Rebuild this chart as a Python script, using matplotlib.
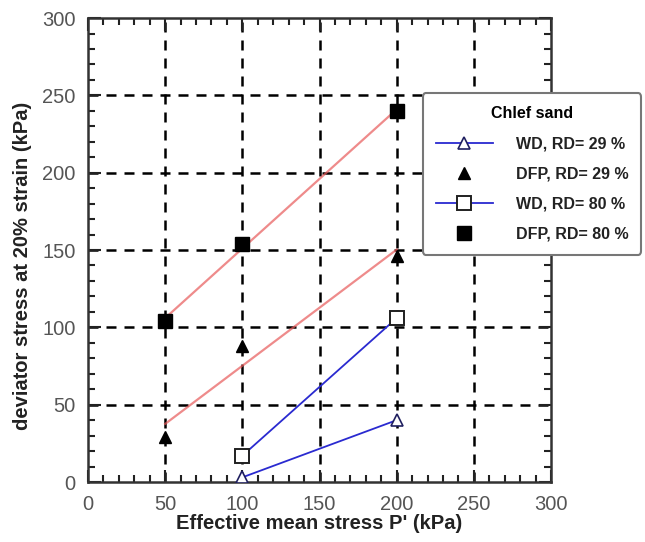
import numpy as np
import matplotlib.pyplot as plt
from matplotlib.ticker import MultipleLocator

plt.rcParams['font.family'] = ['Liberation Sans', 'DejaVu Sans']

# Effective mean stress P' (kPa)
p_wd = [100, 200]
p_dfp = [50, 100, 200]

# deviator stress at 20% strain (kPa)
q_wd_29 = [3, 40]
q_dfp_29 = [29, 88, 146]
q_wd_80 = [17, 106]
q_dfp_80 = [104, 154, 240]

fig = plt.figure(figsize=(6.45, 5.42), dpi=100)
ax = fig.add_axes([0.1364, 0.1107, 0.718, 0.856])

# grid
for v in range(50, 300, 50):
    ax.axvline(v, color='black', lw=1.8, ls=(0, (4, 3.2)), zorder=1)
    ax.axhline(v, color='black', lw=1.8, ls=(0, (4, 3.2)), zorder=1)

# linear trend lines for the DFP series
fx = np.array([50, 200])
for q in (q_dfp_80, q_dfp_29):
    k, b = np.polyfit(p_dfp, q, 1)
    ax.plot(fx, k * fx + b, color='#e85a5a', lw=1.6, alpha=0.7, zorder=2)

h1, = ax.plot(p_wd, q_wd_29, color='#2a2ad0', lw=1.3, marker='^', ms=8,
              mfc='white', mec='#202060', mew=1.2, zorder=3)
h2, = ax.plot(p_dfp, q_dfp_29, ls='none', marker='^', ms=8,
              color='black', zorder=3)
h3, = ax.plot(p_wd, q_wd_80, color='#2a2ad0', lw=1.3, marker='s', ms=10,
              mfc='white', mec='#202020', mew=1.4, zorder=3)
h4, = ax.plot(p_dfp, q_dfp_80, ls='none', marker='s', ms=10,
              color='black', zorder=3)

ax.set_xlim(0, 300)
ax.set_ylim(0, 300)
ax.xaxis.set_major_locator(MultipleLocator(50))
ax.yaxis.set_major_locator(MultipleLocator(50))
ax.xaxis.set_minor_locator(MultipleLocator(10))
ax.yaxis.set_minor_locator(MultipleLocator(10))
ax.tick_params(which='both', direction='in', top=True, right=True,
               color='#222222', width=1.5)
ax.tick_params(which='major', length=9, labelsize=14.5, labelcolor='#555555', pad=9)
ax.tick_params(which='minor', length=5)
for s in ax.spines.values():
    s.set_linewidth(1.8)
    s.set_color('#333333')

ax.set_xlabel("Effective mean stress P' (kPa)", fontsize=14.5,
              fontweight='bold', color='#222222', labelpad=0)
ax.set_ylabel('deviator stress at 20% strain (kPa)', fontsize=14.5,
              fontweight='bold', color='#222222')
ax.yaxis.set_label_coords(-0.12, 0.465)

leg = ax.legend([h1, h2, h3, h4],
                ['WD, RD= 29 %', 'DFP, RD= 29 %', 'WD, RD= 80 %', 'DFP, RD= 80 %'],
                title='Chlef sand', loc='upper left', bbox_to_anchor=(0.706, 0.855),
                fancybox=True, framealpha=1, edgecolor='#777777',
                prop={'weight': 'bold', 'size': 11.5},
                title_fontproperties={'weight': 'bold', 'size': 11.5},
                handlelength=3.6, borderpad=0.8, labelspacing=0.95, handletextpad=1.4)
leg.get_frame().set_linewidth(1.5)
leg.set_zorder(5)
for t in leg.get_texts():
    t.set_color('#222222')

fig.savefig('out.png', dpi=100)
